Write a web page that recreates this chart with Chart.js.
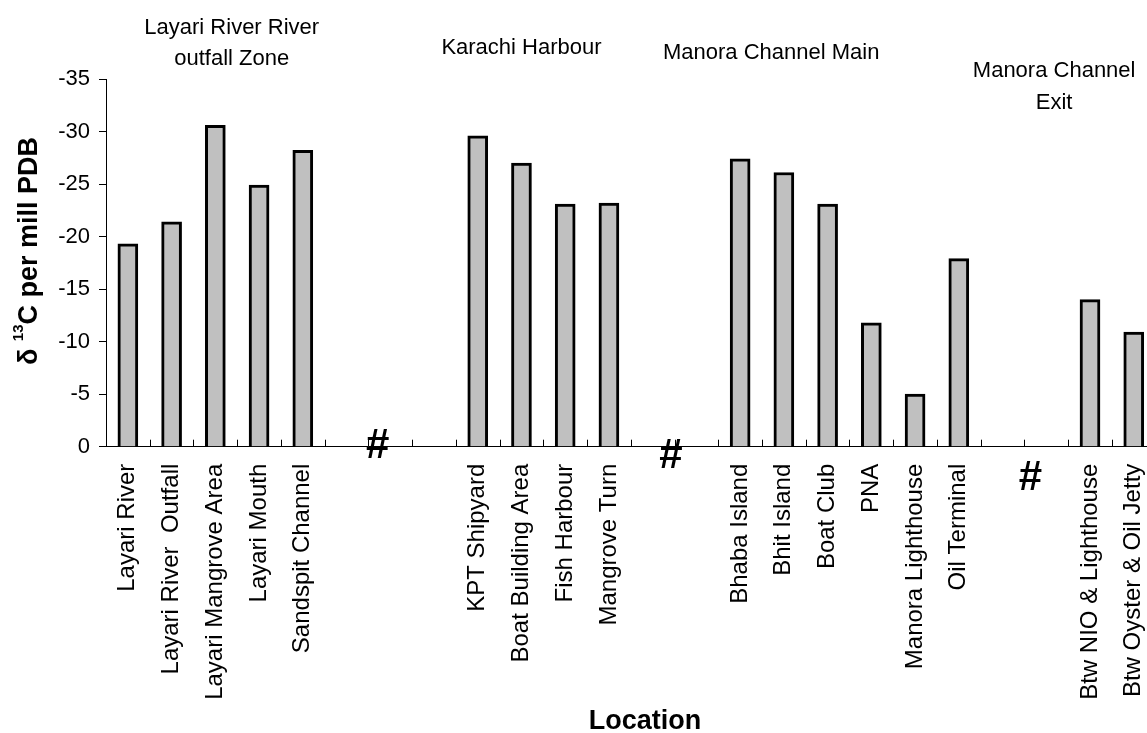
<!DOCTYPE html>
<html>
<head>
<meta charset="utf-8">
<script src="https://cdn.jsdelivr.net/npm/chart.js@4/dist/chart.umd.min.js"></script>
<style>
    html, body { margin: 0; padding: 0; background: #fff; overflow: hidden; }
    #wrap { width: 1180px; height: 733px; }
</style>
</head>
<body>
<div id="wrap"><canvas id="isotopeChart" width="1180" height="733"></canvas></div>
<script>
// sampling sites, in the order they appear along the x axis ('' = empty gap slot)
const locations = [
    'Layari River', 'Layari River  Outfall', 'Layari Mangrove Area', 'Layari Mouth', 'Sandspit Channel',
    '', '', '',
    'KPT Shipyard', 'Boat Building Area', 'Fish Harbour', 'Mangrove Turn',
    '', '',
    'Bhaba Island', 'Bhit Island', 'Boat Club', 'PNA', 'Manora Lighthouse', 'Oil Terminal',
    '', '',
    'Btw NIO & Lighthouse', 'Btw Oyster & Oil Jetty'
];

// delta 13C values (per mill PDB)
const delta13C = [
    -19.3, -21.4, -30.6, -24.9, -28.2,
    null, null, null,
    -29.6, -27.0, -23.1, -23.2,
    null, null,
    -27.4, -26.1, -23.1, -11.8, -5.0, -17.9,
    null, null,
    -14.0, -10.9
];

const yTickValues = [0, -5, -10, -15, -20, -25, -30, -35];

// zone captions above the bars
const zoneNames = [
    ['Layari River River', 'outfall Zone'],
    ['Karachi Harbour'],
    ['Manora Channel Main'],
    ['Manora Channel', 'Exit']
];

const gapMarker = '#';

const FONT = 'Arial, "Liberation Sans", sans-serif';

// extra drawing: inward x ticks, zone captions, gap markers, axis titles
const overlay = {
    id: 'overlay',
    afterDraw(chart) {
        const ctx = chart.ctx;
        const xs = chart.scales.x;
        const area = chart.chartArea;
        ctx.save();

        // tick marks on the x axis point up into the plot
        ctx.strokeStyle = '#000';
        ctx.lineWidth = 1;
        ctx.beginPath();
        for (let i = 0; i <= locations.length; i++) {
            const px = Math.round(xs.getPixelForValue(i - 0.5)) + 0.5;
            ctx.moveTo(px, area.bottom);
            ctx.lineTo(px, area.bottom - 7);
        }
        ctx.stroke();

        ctx.fillStyle = '#000';

        // zone captions
        const zonePos = [2.375, 9.0, 14.71, 21.18];
        const zoneBase = [[33.5, 65], [53.5], [58.5], [77, 108.5]];
        ctx.font = '22px ' + FONT;
        ctx.textAlign = 'center';
        ctx.textBaseline = 'alphabetic';
        zoneNames.forEach((lines, k) => {
            const px = xs.getPixelForValue(zonePos[k]);
            lines.forEach((t, j) => ctx.fillText(t, px, zoneBase[k][j]));
        });

        // gap markers
        const gapPos = [5.71, 12.42, 20.64];
        const gapDy = [11, 21.5, 43.5];
        ctx.font = 'bold 42px ' + FONT;
        gapPos.forEach((g, k) => {
            ctx.fillText(gapMarker, xs.getPixelForValue(g), area.bottom + gapDy[k]);
        });

        // x title
        ctx.font = 'bold 27px ' + FONT;
        ctx.fillText('Location', 645, 729);

        // y title with superscript
        ctx.translate(37, 251);
        ctx.rotate(-Math.PI / 2);
        ctx.textAlign = 'left';
        const parts = [
            ['δ ', 'bold 27px ' + FONT, 0],
            ['13', 'bold 15px ' + FONT, -14],
            ['C per mill PDB', 'bold 27px ' + FONT, 0]
        ];
        let total = 0;
        parts.forEach(p => { ctx.font = p[1]; total += ctx.measureText(p[0]).width; });
        let cx = -total / 2;
        parts.forEach(p => {
            ctx.font = p[1];
            ctx.fillText(p[0], cx, p[2]);
            cx += ctx.measureText(p[0]).width;
        });

        ctx.restore();
    }
};

window.onload = function() {
    try {
        const canvas = document.getElementById('isotopeChart');
        new Chart(canvas.getContext('2d'), {
            type: 'bar',
            data: {
                labels: locations,
                datasets: [{
                    data: delta13C,
                    backgroundColor: '#c0c0c0',
                    borderColor: '#000',
                    borderWidth: 3,
                    borderSkipped: 'start',
                    barThickness: 20
                }]
            },
            options: {
                responsive: false,
                animation: false,
                layout: { padding: { top: 79, left: 0, right: 22, bottom: 0 } },
                plugins: {
                    legend: { display: false },
                    tooltip: { enabled: false }
                },
                scales: {
                    x: {
                        grid: { display: false, drawTicks: false },
                        border: { display: true, color: '#000', width: 1 },
                        ticks: {
                            color: '#000',
                            font: { family: FONT, size: 24 },
                            autoSkip: false,
                            maxRotation: 90,
                            minRotation: 90,
                            padding: 17
                        },
                        afterFit: scale => { scale.height = 286.3; }
                    },
                    y: {
                        reverse: true,
                        min: -35,
                        max: 0,
                        afterBuildTicks: scale => {
                            scale.ticks = yTickValues.map(v => ({ value: v }));
                        },
                        grid: {
                            drawOnChartArea: false,
                            drawTicks: true,
                            tickLength: 7,
                            color: '#000'
                        },
                        border: { display: true, color: '#000', width: 1 },
                        ticks: {
                            color: '#000',
                            font: { family: FONT, size: 22 },
                            padding: 9
                        },
                        afterFit: scale => { scale.width = 106; }
                    }
                }
            },
            plugins: [overlay]
        });
    } catch (error) {
        console.error('Error initializing chart:', error);
    }
};
</script>
</body>
</html>
